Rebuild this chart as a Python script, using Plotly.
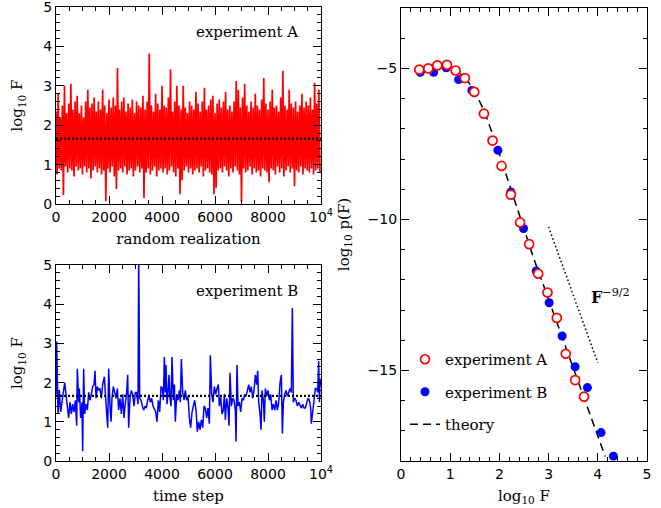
import plotly.graph_objects as go

# ---------------- data ----------------
# experiment A: per-bin (80 realizations) upper / lower extent of log10 F
a_bin = 80
a_hi = [2.35, 2.8, 2.2, 2.5, 3.0, 2.3, 2.55, 3.05, 2.4, 2.6,
        2.75, 2.3, 2.5, 2.2, 2.6, 2.9, 2.45, 2.55, 2.7, 2.35,
        2.6, 2.4, 2.9, 2.5, 2.3, 2.65, 2.45, 2.7, 2.5, 3.45,
        2.4, 2.6, 2.7, 2.35, 2.55, 2.45, 2.65, 2.3, 2.6, 2.5,
        2.45, 2.75, 2.4, 2.6, 3.82, 2.5, 2.35, 2.8, 2.55, 2.4,
        3.0, 2.5, 2.45, 2.7, 3.42, 2.35, 2.6, 3.0, 2.5, 2.4,
        3.0, 2.45, 2.3, 2.6, 2.5, 2.4, 2.85, 2.55, 2.35, 2.6,
        2.95, 2.4, 2.5, 2.65, 2.75, 2.3, 2.55, 2.65, 2.45, 2.6,
        2.85, 2.4, 2.5, 2.35, 2.6, 3.12, 2.9, 2.45, 2.7, 3.05,
        2.5, 2.35, 2.6, 2.45, 2.8, 2.5, 2.4, 2.65, 3.2, 2.55,
        2.4, 2.6, 2.9, 2.45, 2.5, 2.35, 2.7, 3.38, 2.5, 2.4,
        2.9, 2.55, 2.45, 2.6, 2.35, 2.5, 2.8, 2.45, 2.6, 2.5,
        2.7, 2.4, 3.08, 2.55, 2.9]
a_lo = [0.75, 0.9, 0.85, 0.22, 0.95, 0.8, 0.9, 0.85, 0.7, 0.95,
        0.85, 0.9, 0.75, 0.95, 0.8, 0.9, 0.65, 0.85, 0.95, 0.8,
        0.9, 0.75, 0.85, 0.07, 0.9, 0.8, 0.95, 0.7, 0.38, 0.85,
        0.9, 0.8, 0.95, 0.75, 0.85, 0.9, 0.7, 0.85, 0.95, 0.8,
        0.9, 0.15, 0.8, 0.9, 0.75, 0.85, 0.95, 0.7, 0.85, 0.9,
        0.8, 0.9, 0.75, 0.85, 0.95, 0.8, 0.7, 0.9, 0.25, 0.6,
        0.85, 0.95, 0.8, 0.9, 0.75, 0.85, 0.9, 0.8, 0.95, 0.7,
        0.85, 0.9, 0.8, 0.75, 0.25, 0.4, 0.85, 0.9, 0.8, 0.95,
        0.85, 0.7, 0.9, 0.8, 0.95, 0.85, 0.75, 0.05, 0.9, 0.8,
        0.85, 0.95, 0.75, 0.9, 0.8, 0.85, 0.7, 0.9, 0.85, 0.8,
        0.55, 0.9, 0.85, 0.75, 0.95, 0.8, 0.9, 0.7, 0.85, 0.95,
        0.8, 0.9, 0.45, 0.85, 0.8, 0.95, 0.75, 0.9, 0.85, 0.8,
        0.9, 0.75, 0.85, 0.9, 0.8]

# experiment B: time series
b_t = [0, 25, 75, 126, 176, 226, 277, 327, 377, 428, 478, 528, 579, 629, 679, 730,
       780, 805, 855, 881, 931, 981, 1006, 1044, 1082, 1132, 1183, 1233, 1283, 1333,
       1384, 1434, 1472, 1510, 1560, 1610, 1661, 1711, 1761, 1824, 1862, 1912, 1950,
       1988, 2038, 2076, 2113, 2164, 2214, 2264, 2315, 2365, 2415, 2466, 2516, 2566,
       2604, 2667, 2705, 2742, 2793, 2843, 2893, 2944, 2994, 3044, 3095, 3120, 3158,
       3208, 3258, 3309, 3359, 3409, 3460, 3510, 3560, 3610, 3661, 3711, 3761, 3812,
       3862, 3912, 3963, 4013, 4051, 4089, 4126, 4151, 4189, 4227, 4265, 4302, 4340,
       4378, 4428, 4466, 4504, 4554, 4604, 4655, 4692, 4730, 4780, 4831, 4881, 4931,
       4982, 5032, 5082, 5133, 5183, 5233, 5284, 5334, 5384, 5435, 5485, 5535, 5586,
       5636, 5686, 5736, 5787, 5825, 5875, 5925, 5976, 6026, 6076, 6126, 6164, 6215,
       6265, 6315, 6353, 6391, 6441, 6491, 6529, 6567, 6617, 6667, 6718, 6768, 6793,
       6831, 6869, 6919, 6969, 7020, 7070, 7120, 7171, 7221, 7271, 7322, 7372, 7422,
       7473, 7523, 7573, 7611, 7649, 7699, 7737, 7774, 7825, 7862, 7900, 7951, 8001,
       8051, 8102, 8152, 8202, 8253, 8303, 8353, 8404, 8454, 8504, 8542, 8580, 8630,
       8680, 8731, 8781, 8831, 8881, 8919, 8957, 9007, 9057, 9108, 9158, 9208, 9259,
       9309, 9359, 9409, 9460, 9510, 9560, 9611, 9636, 9686, 9737, 9787, 9837, 9875,
       9913, 9938, 9963, 10000]
b_f = [1.7, 3.05, 1.2, 1.8, 1.25, 1.55, 1.85, 2.0, 1.7, 1.3, 1.1, 1.5, 1.2, 1.45, 1.25, 1.55,
       0.9, 2.35, 1.5, 1.85, 1.1, 1.5, 0.25, 2.35, 1.2, 1.45, 1.3, 1.75, 1.55, 1.7,
       1.9, 1.95, 2.3, 1.6, 1.9, 1.8, 1.85, 1.6, 1.95, 2.15, 1.6, 1.2, 0.85,
       2.35, 1.4, 1.0, 1.6, 1.9, 1.75, 1.6, 1.85, 1.3, 1.6, 1.2, 1.7, 1.1,
       1.4, 1.75, 2.2, 0.85, 1.6, 1.8, 1.7, 1.4, 1.75, 1.75, 1.45, 5.3, 1.6,
       1.55, 1.4, 1.3, 1.4, 1.35, 1.55, 1.65, 1.5, 1.6, 1.4, 1.3, 1.25, 1.0,
       1.55, 1.25, 1.9, 1.85, 1.55, 2.65, 1.75, 2.45, 1.45, 1.75, 2.2, 1.6, 1.4,
       2.65, 1.55, 1.95, 1.0, 1.7, 1.55, 1.8, 1.5, 2.6, 1.75, 1.55, 1.8, 1.55,
       1.65, 1.1, 0.85, 1.25, 1.45, 1.55, 1.3, 0.75, 1.0, 0.8, 1.05, 0.85, 1.4,
       1.35, 1.1, 1.35, 0.95, 2.7, 1.7, 1.5, 1.9, 1.7, 1.85, 1.95, 1.4, 1.65,
       1.2, 1.3, 1.7, 1.05, 1.6, 1.35, 0.9, 2.25, 1.4, 1.6, 1.55, 1.3, 0.5,
       2.45, 1.4, 1.5, 1.25, 1.6, 1.55, 1.7, 1.65, 1.85, 1.95, 1.75, 1.9, 1.6,
       1.8, 2.2, 1.95, 2.3, 1.5, 1.2, 0.8, 1.8, 1.55, 1.0, 1.85, 1.65, 1.8,
       1.55, 1.7, 1.3, 1.45, 1.3, 1.55, 1.3, 1.5, 2.0, 2.2, 0.7, 1.5, 1.7,
       1.8, 1.65, 1.75, 1.85, 1.75, 3.9, 1.5, 1.6, 1.55, 1.4, 1.5, 1.4, 1.35,
       1.45, 1.35, 1.35, 1.5, 1.6, 1.55, 1.35, 0.95, 1.3, 1.6, 1.85, 1.85, 1.75,
       2.55, 1.5, 2.1, 1.9]
mean_log_f = 1.66

# distributions
pa_x = [0.372, 0.555, 0.738, 0.934, 1.110, 1.299, 1.489, 1.685, 1.861, 2.044,
        2.233, 2.42, 2.605, 2.788, 2.977, 3.166, 3.349, 3.54, 3.72]
pa_y = [-5.04, -5.00, -4.90, -4.88, -5.07, -5.32, -5.78, -6.50, -7.39, -8.23,
        -9.18, -10.10, -10.82, -11.80, -12.42, -13.26, -14.45, -15.32, -15.87]
pb_x = [0.392, 0.663, 0.92, 1.17, 1.44, 1.69, 1.97, 2.233, 2.49, 2.747,
        3.011, 3.275, 3.539, 3.789, 4.066, 4.317]
pb_y = [-5.13, -5.13, -4.98, -5.37, -5.73, -6.50, -7.71, -9.09, -10.30, -11.71,
        -12.76, -13.86, -14.88, -15.57, -17.06, -17.84]
th_x = [0.32, 0.6, 0.9, 1.1, 1.3, 1.5, 1.7, 1.9, 2.1, 2.3, 2.5, 2.7, 2.9, 3.1,
        3.3, 3.5, 3.7, 3.9, 4.15]
th_y = [-4.95, -4.96, -4.97, -5.05, -5.3, -5.75, -6.45, -7.35, -8.35, -9.35, -10.3,
        -11.3, -12.2, -13.1, -14.0, -14.9, -15.8, -16.7, -17.85]
pl_x = [3.0, 4.0]
pl_y = [-10.25, -14.75]

x_ticks_a = [0, 2000, 4000, 6000, 8000, 10000]
x_tick_text = ["0", "2000", "4000", "6000", "8000", "10<sup>4</sup>"]

# ---------------- figure ----------------
SERIF = "DejaVu Serif"
SANS = "DejaVu Sans"
W, H = 661, 508


def px_x(p):
    return p / W


def px_y(p):
    return 1 - p / H


fig = go.Figure()

ax_x = []
ax_y = []
for i, (h, l) in enumerate(zip(a_hi, a_lo)):
    ax_x += [i * a_bin, i * a_bin + a_bin / 2]
    ax_y += [h, l]

fig.add_trace(go.Scatter(x=ax_x, y=ax_y, mode="lines", line=dict(color="#ff0000", width=1.7),
                         xaxis="x", yaxis="y", showlegend=False, hoverinfo="skip"))
fig.add_trace(go.Scatter(x=[0, 10000], y=[mean_log_f, mean_log_f], mode="lines",
                         line=dict(color="black", width=2.2, dash="2px,2px"),
                         xaxis="x", yaxis="y", showlegend=False))

fig.add_trace(go.Scatter(x=b_t, y=b_f, mode="lines", line=dict(color="#0000ff", width=1.5),
                         xaxis="x2", yaxis="y2", showlegend=False))
fig.add_trace(go.Scatter(x=[0, 10000], y=[mean_log_f, mean_log_f], mode="lines",
                         line=dict(color="black", width=2.2, dash="2px,2px"),
                         xaxis="x2", yaxis="y2", showlegend=False))

fig.add_trace(go.Scatter(x=th_x, y=th_y, mode="lines", name="theory",
                         line=dict(color="black", width=1.5, dash="8px,5px"),
                         xaxis="x3", yaxis="y3", legendgroup="c", legendrank=3))
fig.add_trace(go.Scatter(x=pl_x, y=pl_y, mode="lines", showlegend=False,
                         line=dict(color="black", width=1.5, dash="1.5px,2.5px"),
                         xaxis="x3", yaxis="y3"))
fig.add_trace(go.Scatter(x=pb_x, y=pb_y, mode="markers", name="experiment B",
                         marker=dict(color="#0000ff", size=9, symbol="circle"),
                         xaxis="x3", yaxis="y3", legendgroup="b", legendrank=2))
fig.add_trace(go.Scatter(x=pa_x, y=pa_y, mode="markers", name="experiment A",
                         marker=dict(color="white", size=9, symbol="circle",
                                     line=dict(color="#ff0000", width=1.7)),
                         xaxis="x3", yaxis="y3", legendgroup="a", legendrank=1))

axis_common = dict(showline=True, linecolor="black", linewidth=1.3, mirror="ticks",
                   ticks="inside", ticklen=8, tickwidth=1.3, tickcolor="black",
                   showgrid=False, zeroline=False, automargin=False,
                   ticklabeloverflow="allow",
                   tickfont=dict(family=SANS, size=14, color="black"))

left_dom = [px_x(56), px_x(321)]
fig.update_layout(
    width=W, height=H, margin=dict(l=0, r=0, t=0, b=0, autoexpand=False),
    paper_bgcolor="white", plot_bgcolor="white",
    font=dict(family=SERIF, size=14, color="black"),
    xaxis=dict(domain=left_dom, range=[0, 10000], tickvals=x_ticks_a, ticktext=x_tick_text,
               minor=dict(ticks="inside", dtick=500, ticklen=4, tickcolor="black"),
               title=dict(text="random realization", standoff=9,
                          font=dict(family=SERIF, size=15)),
               anchor="y", **axis_common),
    yaxis=dict(domain=[px_y(204), px_y(7)], range=[0, 5], dtick=1,
               minor=dict(ticks="inside", dtick=0.2, ticklen=4, tickcolor="black"),
               title=dict(text="log<sub>10</sub> F", standoff=16,
                          font=dict(family=SERIF, size=15)),
               anchor="x", **axis_common),
    xaxis2=dict(domain=left_dom, range=[0, 10000], tickvals=x_ticks_a, ticktext=x_tick_text,
                minor=dict(ticks="inside", dtick=500, ticklen=4, tickcolor="black"),
                title=dict(text="time step", standoff=9, font=dict(family=SERIF, size=15)),
                anchor="y2", **axis_common),
    yaxis2=dict(domain=[px_y(461), px_y(265)], range=[0, 5], dtick=1,
                minor=dict(ticks="inside", dtick=0.2, ticklen=4, tickcolor="black"),
                title=dict(text="log<sub>10</sub> F", standoff=16,
                           font=dict(family=SERIF, size=15)),
                anchor="x2", **axis_common),
    xaxis3=dict(domain=[px_x(401), px_x(647)], range=[0, 5], dtick=1,
                minor=dict(ticks="inside", dtick=0.2, ticklen=4, tickcolor="black"),
                title=dict(text="log<sub>10</sub> F", standoff=9,
                           font=dict(family=SERIF, size=15)),
                anchor="y3", **axis_common),
    yaxis3=dict(domain=[px_y(461), px_y(8)], range=[-18, -3], tickvals=[-5, -10, -15],
                minor=dict(ticks="inside", dtick=1, ticklen=4, tickcolor="black"),
                title=dict(text="log<sub>10</sub> p(F)", standoff=14,
                           font=dict(family=SERIF, size=15)),
                anchor="x3", **axis_common),
    legend=dict(x=px_x(405), y=px_y(343), xanchor="left", yanchor="top",
                bgcolor="rgba(0,0,0,0)", font=dict(family=SERIF, size=15),
                traceorder="grouped", tracegroupgap=10, itemwidth=30),
    showlegend=True,
)

fig.add_annotation(text="experiment A", xref="paper", yref="paper", x=px_x(300), y=px_y(32),
                   xanchor="right", yanchor="middle", showarrow=False,
                   font=dict(family=SERIF, size=15))
fig.add_annotation(text="experiment B", xref="paper", yref="paper", x=px_x(300), y=px_y(291),
                   xanchor="right", yanchor="middle", showarrow=False,
                   font=dict(family=SERIF, size=15))
fig.add_annotation(text="<b>F</b><sup>−9/2</sup>", xref="x3", yref="y3", x=3.83, y=-12.55,
                   xanchor="left", yanchor="middle", showarrow=False,
                   font=dict(family=SERIF, size=16))

fig.write_html("out.html", config={"displayModeBar": False},
               post_script="document.body.style.margin='0px';")
